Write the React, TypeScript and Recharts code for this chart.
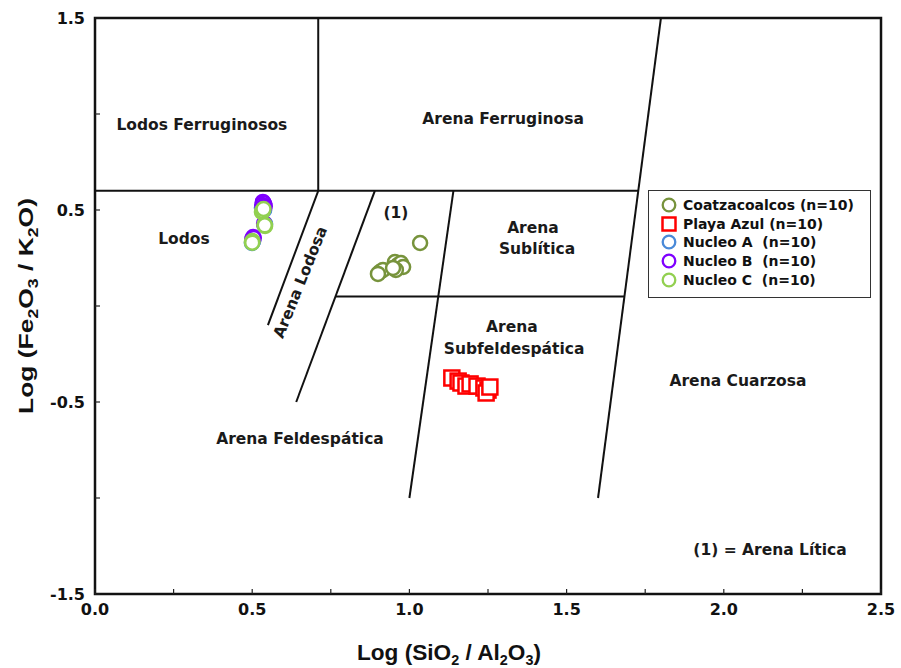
import {
  ReferenceArea,
  ReferenceLine,
  Scatter,
  ScatterChart,
  XAxis,
  YAxis,
} from "recharts";

// plot frame in page pixels (chart is pinned at 0,0)
const PLOT = { left: 95, right: 881, top: 18, bottom: 594 };
const SANS = "'Liberation Sans', Arial, sans-serif";
const WIDE = "'DejaVu Sans', Verdana, sans-serif";

const xTicks = [0, 0.25, 0.5, 0.75, 1, 1.25, 1.5, 1.75, 2, 2.25, 2.5];
const yTicks = [-1.5, -1, -0.5, 0, 0.5, 1, 1.5];

const coatzacoalcos = [
  { x: 1.034, y: 0.328 },
  { x: 0.906, y: 0.177 },
  { x: 0.916, y: 0.188 },
  { x: 0.954, y: 0.229 },
  { x: 0.964, y: 0.214 },
  { x: 0.973, y: 0.224 },
  { x: 0.98, y: 0.203 },
  { x: 0.957, y: 0.188 },
  { x: 0.9, y: 0.167 },
  { x: 0.948, y: 0.198 },
];

const playaAzul = [
  { x: 1.135, y: -0.375 },
  { x: 1.155, y: -0.391 },
  { x: 1.164, y: -0.401 },
  { x: 1.18, y: -0.417 },
  { x: 1.193, y: -0.406 },
  { x: 1.215, y: -0.417 },
  { x: 1.237, y: -0.427 },
  { x: 1.25, y: -0.438 },
  { x: 1.244, y: -0.453 },
  { x: 1.256, y: -0.422 },
];

const nucleoA = [
  { x: 0.534, y: 0.521 },
  { x: 0.531, y: 0.51 },
  { x: 0.538, y: 0.5 },
  { x: 0.541, y: 0.427 },
  { x: 0.539, y: 0.42 },
  { x: 0.503, y: 0.339 },
  { x: 0.499, y: 0.328 },
  { x: 0.501, y: 0.333 },
  { x: 0.535, y: 0.515 },
  { x: 0.537, y: 0.505 },
];

const nucleoB = [
  { x: 0.534, y: 0.542 },
  { x: 0.538, y: 0.531 },
  { x: 0.536, y: 0.536 },
  { x: 0.532, y: 0.526 },
  { x: 0.54, y: 0.52 },
  { x: 0.503, y: 0.359 },
  { x: 0.5, y: 0.349 },
  { x: 0.505, y: 0.354 },
  { x: 0.538, y: 0.43 },
  { x: 0.535, y: 0.515 },
];

const nucleoC = [
  { x: 0.531, y: 0.49 },
  { x: 0.534, y: 0.5 },
  { x: 0.541, y: 0.417 },
  { x: 0.539, y: 0.424 },
  { x: 0.499, y: 0.333 },
  { x: 0.501, y: 0.338 },
  { x: 0.533, y: 0.495 },
  { x: 0.536, y: 0.505 },
  { x: 0.54, y: 0.42 },
  { x: 0.5, y: 0.33 },
];

// field boundaries of the classification diagram
const boundaries = [
  [{ x: 0, y: 0.6 }, { x: 1.728, y: 0.6 }],
  [{ x: 0.71, y: 0.6 }, { x: 0.71, y: 1.5 }],
  [{ x: 0.71, y: 0.6 }, { x: 0.55, y: -0.1 }],
  [{ x: 0.89, y: 0.6 }, { x: 0.64, y: -0.5 }],
  [{ x: 0.765, y: 0.05 }, { x: 1.684, y: 0.05 }],
  [{ x: 1.14, y: 0.6 }, { x: 1.0, y: -1.0 }],
  [{ x: 1.6, y: -1.0 }, { x: 1.8, y: 1.5 }],
];

const fieldLabels = [
  { x: 0.34, y: 0.948, text: "Lodos Ferruginosos", angle: 0 },
  { x: 1.298, y: 0.979, text: "Arena Ferruginosa", angle: 0 },
  { x: 0.283, y: 0.354, text: "Lodos", angle: 0 },
  { x: 0.957, y: 0.49, text: "(1)", angle: 0 },
  { x: 1.393, y: 0.411, text: "Arena", angle: 0 },
  { x: 1.406, y: 0.302, text: "Sublítica", angle: 0 },
  { x: 0.652, y: 0.125, text: "Arena Lodosa", angle: -68 },
  { x: 1.326, y: -0.104, text: "Arena", angle: 0 },
  { x: 1.333, y: -0.219, text: "Subfeldespática", angle: 0 },
  { x: 2.045, y: -0.385, text: "Arena Cuarzosa", angle: 0 },
  { x: 0.652, y: -0.688, text: "Arena Feldespática", angle: 0 },
  { x: 2.147, y: -1.27, text: "(1) = Arena Lítica", angle: 0 },
];

const series = [
  { name: "Coatzacoalcos (n=10)", data: coatzacoalcos, color: "#77933C", square: false },
  { name: "Playa Azul (n=10)", data: playaAzul, color: "#FF0000", square: true },
  { name: "Nucleo A  (n=10)", data: nucleoA, color: "#4A8AD8", square: false },
  { name: "Nucleo B  (n=10)", data: nucleoB, color: "#7F00FF", square: false },
  { name: "Nucleo C  (n=10)", data: nucleoC, color: "#92D050", square: false },
];

function XTick(props: any) {
  const { x, payload } = props;
  const v = payload.value;
  const major = Math.abs(v * 2 - Math.round(v * 2)) < 1e-6;
  return (
    <g>
      <line x1={x} x2={x} y1={PLOT.bottom} y2={PLOT.bottom - 5} stroke="#222" strokeWidth={1.2} />
      {major && (
        <text x={x} y={PLOT.bottom + 21} textAnchor="middle" fontFamily={WIDE} fontWeight="bold" fontSize={16} fill="#111">
          {v.toFixed(1)}
        </text>
      )}
    </g>
  );
}

function YTick(props: any) {
  const { y, payload } = props;
  const v = payload.value;
  const labelled = Math.round(Math.abs(v) * 2) % 2 === 1;
  return (
    <g>
      <line x1={PLOT.left} x2={PLOT.left + 5} y1={y} y2={y} stroke="#222" strokeWidth={1.2} />
      {labelled && (
        <text x={PLOT.left - 10} y={y + 6} textAnchor="end" fontFamily={WIDE} fontWeight="bold" fontSize={16} fill="#111">
          {v.toFixed(1)}
        </text>
      )}
    </g>
  );
}

function XTitle() {
  return (
    <text x={357} y={660} textLength={184} lengthAdjust="spacingAndGlyphs" fontFamily={SANS} fontWeight="bold" fontSize={22} fill="#111">
      Log (SiO<tspan fontSize={14} dy={5}>2</tspan>
      <tspan dy={-5}> / Al</tspan>
      <tspan fontSize={14} dy={5}>2</tspan>
      <tspan dy={-5}>O</tspan>
      <tspan fontSize={14} dy={5}>3</tspan>
      <tspan dy={-5}>)</tspan>
    </text>
  );
}

function YTitle() {
  return (
    <text x={0} y={0} transform="translate(33,414) rotate(-90)" textLength={216} lengthAdjust="spacingAndGlyphs" fontFamily={SANS} fontWeight="bold" fontSize={21} fill="#111">
      Log (Fe<tspan fontSize={14} dy={5}>2</tspan>
      <tspan dy={-5}>O</tspan>
      <tspan fontSize={14} dy={5}>3</tspan>
      <tspan dy={-5}> / K</tspan>
      <tspan fontSize={14} dy={5}>2</tspan>
      <tspan dy={-5}>O)</tspan>
    </text>
  );
}

function FieldLabel(props: any) {
  const { cx, cy, payload } = props;
  return (
    <text
      x={cx}
      y={cy}
      dy="0.36em"
      textAnchor="middle"
      transform={payload.angle ? `rotate(${payload.angle} ${cx} ${cy})` : undefined}
      fontFamily={WIDE}
      fontWeight="bold"
      fontSize={15.5}
      fill="#1a1a1a"
    >
      {payload.text}
    </text>
  );
}

function marker(color: string, square: boolean) {
  return (props: any) => {
    const { cx, cy } = props;
    if (square) {
      return <rect x={cx - 7.5} y={cy - 7.5} width={15} height={15} fill="#fff" stroke={color} strokeWidth={2.5} />;
    }
    return <circle cx={cx} cy={cy} r={7} fill="#fff" stroke={color} strokeWidth={2.5} />;
  };
}

function LegendBox() {
  return (
    <div
      style={{
        position: "absolute",
        left: 648,
        top: 190,
        width: 223,
        height: 108,
        boxSizing: "border-box",
        border: "1.5px solid #333",
        background: "#fff",
        padding: "5px 4px 0 12px",
      }}
    >
      {series.map((s) => (
        <div key={s.name} style={{ display: "flex", alignItems: "center", height: 18.6 }}>
          <svg width={16} height={16} style={{ marginRight: 6, flex: "none" }}>
            {s.square ? (
              <rect x={1.5} y={1.5} width={13} height={13} fill="#fff" stroke={s.color} strokeWidth={2.5} />
            ) : (
              <circle cx={8} cy={8} r={6.3} fill="#fff" stroke={s.color} strokeWidth={2.3} />
            )}
          </svg>
          <span style={{ fontFamily: WIDE, fontWeight: "bold", fontSize: 14, color: "#111", whiteSpace: "pre" }}>{s.name}</span>
        </div>
      ))}
    </div>
  );
}

export default function App() {
  return (
    <div style={{ position: "absolute", left: 0, top: 0, width: 901, height: 668, background: "#fff" }}>
      <ScatterChart width={901} height={668} margin={{ top: 18, right: 20, bottom: 34, left: 35 }}>
        <XAxis
          type="number"
          dataKey="x"
          domain={[0, 2.5]}
          ticks={xTicks}
          interval={0}
          height={40}
          axisLine={false}
          tickLine={false}
          tick={<XTick />}
          label={{ content: () => <XTitle /> }}
        />
        <YAxis
          type="number"
          dataKey="y"
          domain={[-1.5, 1.5]}
          ticks={yTicks}
          interval={0}
          width={60}
          axisLine={false}
          tickLine={false}
          tick={<YTick />}
          label={{ content: () => <YTitle /> }}
        />
        {boundaries.map((seg, i) => (
          <ReferenceLine key={i} segment={seg} stroke="#111" strokeWidth={2} ifOverflow="visible" />
        ))}
        <ReferenceArea x1={0} x2={2.5} y1={-1.5} y2={1.5} stroke="#111" strokeWidth={2.5} fill="none" fillOpacity={0} />
        <Scatter data={fieldLabels} shape={<FieldLabel />} legendType="none" isAnimationActive={false} />
        {series.map((s) => (
          <Scatter key={s.name} name={s.name} data={s.data} shape={marker(s.color, s.square)} isAnimationActive={false} />
        ))}
      </ScatterChart>
      <LegendBox />
    </div>
  );
}
